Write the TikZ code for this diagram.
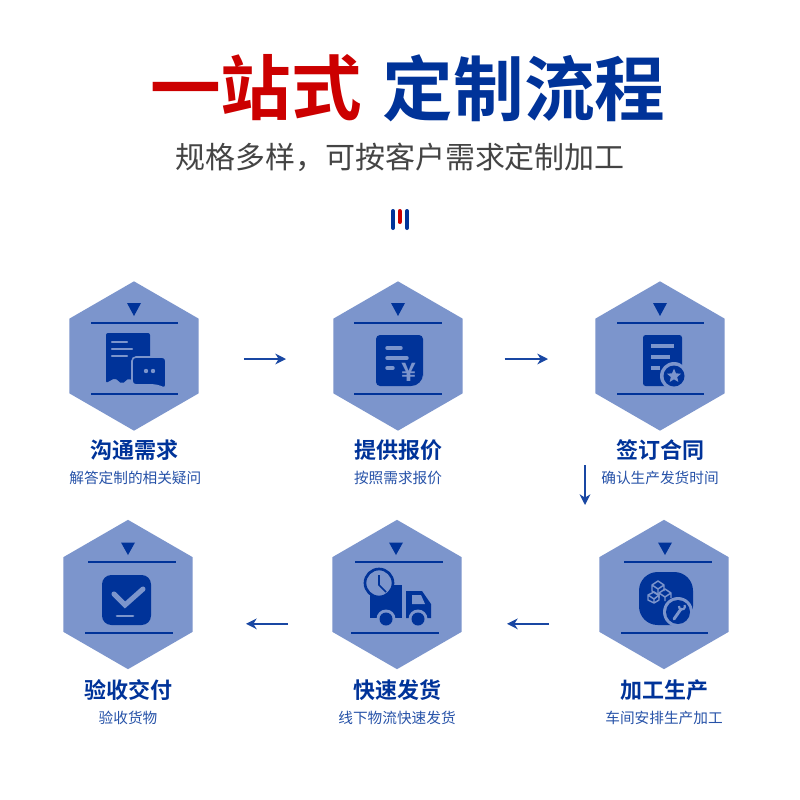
\documentclass[tikz,border=0pt]{standalone}
\usepackage{fontspec}
\usepackage{xcolor}
\usepackage{tikz}
\usetikzlibrary{arrows.meta,positioning,calc,shapes.geometric}
\newfontfamily\cjk[BoldFont={Noto Sans CJK SC Bold}]{Noto Sans CJK SC}
\definecolor{brandblue}{HTML}{003399}
\definecolor{brandred}{HTML}{CC0000}
\definecolor{hexblue}{HTML}{7C95CC}
\definecolor{subgray}{HTML}{444444}

\begin{document}
\begin{tikzpicture}[
        x=0.75pt, y=-0.75pt,
        >={Stealth[length=8pt,width=8pt,inset=2.5pt]},
        font=\cjk,
        % node styles
        hexcell/.style={regular polygon, regular polygon sides=6, shape border rotate=30, fill=hexblue, minimum size=112pt, inner sep=0pt, outer sep=0pt},
        maintitle/.style={font=\cjk\bfseries\fontsize{53}{53}\selectfont, inner sep=0pt},
        subtitle/.style={font=\cjk\fontsize{22.5}{22.5}\selectfont, text=subgray, inner sep=0pt},
        steptitle/.style={font=\cjk\bfseries\fontsize{16.5}{16.5}\selectfont, text=brandblue, inner sep=0pt},
        stepnote/.style={font=\cjk\fontsize{11}{11}\selectfont, text=brandblue!85!white, inner sep=0pt},
        % line styles
        flowline/.style={->, draw=brandblue!90!white, line width=1.1pt},
        rulebar/.style={draw=brandblue, line width=1pt},
        markbar/.style={line width=3pt, line cap=round},
        iconfill/.style={fill=brandblue, draw=none},
        iconline/.style={draw=hexblue, line width=1.8pt, line cap=round},
        notch/.style={fill=brandblue, draw=none}
    ]
    \useasboundingbox (0,0) rectangle (800,800);
    \fill[white] (0,0) rectangle (800,800);

    % heading
    \node[maintitle, text=brandred] (titlered) at (256,88) {一站式};
    \node[maintitle, text=brandblue] (titleblue) at (524,88) {定制流程};
    \node[subtitle] (subhead) at (400,157) {规格多样，可按客户需求定制加工};
    \draw[markbar, brandblue] (393,211) -- (393,228);
    \draw[markbar, brandred] (399.7,211) -- (399.7,222);
    \draw[markbar, brandblue] (407,211) -- (407,228);

    % hexagons
    \node[hexcell] (hexa) at (134,356) {};
    \node[hexcell] (hexb) at (398,356) {};
    \node[hexcell] (hexc) at (660,356) {};
    \node[hexcell] (hexd) at (128,594.5) {};
    \node[hexcell] (hexe) at (397,594.5) {};
    \node[hexcell] (hexf) at (664,594.5) {};

    % labels
    \node[steptitle, below=6.5pt of hexa] (titlea) {沟通需求};
    \node[stepnote, below=7.5pt of titlea, xshift=1pt] (notea) {解答定制的相关疑问};
    \node[steptitle, below=6.5pt of hexb] (titleb) {提供报价};
    \node[stepnote, below=7.5pt of titleb] (noteb) {按照需求报价};
    \node[steptitle, below=6.5pt of hexc] (titlec) {签订合同};
    \node[stepnote, below=7.5pt of titlec] (notec) {确认生产发货时间};
    \node[steptitle, below=7.5pt of hexd] (titled) {验收交付};
    \node[stepnote, below=7.5pt of titled] (noted) {验收货物};
    \node[steptitle, below=7.5pt of hexe] (titlee) {快速发货};
    \node[stepnote, below=7.5pt of titlee] (notee) {线下物流快速发货};
    \node[steptitle, below=7.5pt of hexf] (titlef) {加工生产};
    \node[stepnote, below=7.5pt of titlef] (notef) {车间安排生产加工};

    % triangles and rules
    \fill[notch] (127,303) -- (141,303) -- (134,316) -- cycle;
    \draw[rulebar] (91,323) -- (178,323) (91,394) -- (178,394);
    \fill[notch] (391,303) -- (405,303) -- (398,316) -- cycle;
    \draw[rulebar] (354,323) -- (442,323) (354,394) -- (442,394);
    \fill[notch] (653,303) -- (667,303) -- (660,316) -- cycle;
    \draw[rulebar] (617,323) -- (704,323) (617,394) -- (704,394);
    \fill[notch] (121,542.5) -- (135,542.5) -- (128,555) -- cycle;
    \draw[rulebar] (88,562) -- (176,562) (85,633) -- (173,633);
    \fill[notch] (389,542.5) -- (403,542.5) -- (396,555) -- cycle;
    \draw[rulebar] (355,562) -- (443,562) (351,633) -- (439,633);
    \fill[notch] (658,542.5) -- (672,542.5) -- (665,555) -- cycle;
    \draw[rulebar] (624,562) -- (712,562) (621,633) -- (708,633);

    % icon: receipt and chat
    \fill[iconfill, rounded corners=1.5pt] (106,333) -- (150,333) -- (150,383) -- (143,378) -- (136,384) -- (129,378) -- (122,384) -- (115,378) -- (106,383) -- cycle;
    \draw[iconline] (112,342) -- (127,342) (112,349) -- (132,349) (112,356) -- (127,356);
    \draw[fill=brandblue, draw=hexblue, line width=1.2pt, rounded corners=3pt] (132,357) -- (166,357) -- (166,389) -- (157,385) -- (132,385) -- cycle;
    \fill[hexblue] (146,371) circle (2.2) (153,371) circle (2.2);

    % icon: quote sheet
    \fill[iconfill, rounded corners=3pt] (376,335) -- (423,335) -- (423,372) [rounded corners=9pt] -- (423,386) [rounded corners=3pt] -- (376,386) -- cycle;
    \draw[iconline, line width=2.6pt] (387,348) -- (401,348) (387,358) -- (407,358) (387,368) -- (393,368);
    \node[font=\cjk\bfseries\fontsize{19}{19}\selectfont, text=hexblue, inner sep=0pt] (yuansign) at (409,372) {¥};

    % icon: contract
    \fill[iconfill, rounded corners=2pt] (643,335) rectangle (682,386);
    \draw[iconline, line cap=butt, line width=3pt] (651,346) -- (674,346) (651,357) -- (670,357) (651,368) -- (660,368);
    \fill[hexblue] (674,376) circle (14);
    \fill[brandblue] (674,376) circle (10.5);
    \node[star, star points=5, star point ratio=2.2, fill=hexblue, minimum size=11pt, inner sep=0pt] (badgestar) at (674,376) {};

    % icon: check box
    \fill[iconfill, rounded corners=7pt] (102,575) rectangle (151,625);
    \draw[iconline, line width=3.8pt] (114,594) -- (125,605) -- (143,589);
    \draw[iconline, line width=2pt] (117,616) -- (133,616);

    % icon: truck
    \fill[iconfill] (370,585) rectangle (402,618);
    \fill[iconfill] (406,591) -- (422,591) -- (431,604) -- (431,618) -- (406,618) -- cycle;
    \fill[hexblue] (412,595) -- (421,595) -- (425,604) -- (412,604) -- cycle;
    \filldraw[fill=hexblue, draw=brandblue, line width=2pt] (379,583) circle (14);
    \draw[draw=brandblue, line width=1.3pt] (379,575) -- (379,585) -- (386,592);
    \fill[hexblue] (386,619) circle (9.5) (418,619) circle (9.5);
    \fill[brandblue] (386,619) circle (6.5) (418,619) circle (6.5);

    % icon: machining
    \fill[iconfill, rounded corners=14pt] (639,572) rectangle (693,625);
    \begin{scope}[draw=hexblue, line width=1.1pt, line join=round]
        \draw (652,585) -- (658,581) -- (664,585) -- (658,589) -- cycle (652,585) -- (652,591) -- (658,595) -- (658,589) (664,585) -- (664,591);
        \draw (659,593) -- (665,589) -- (671,593) -- (665,597) -- cycle (659,593) -- (659,598) (665,597) -- (665,601) (671,593) -- (671,598);
        \draw (648,595) -- (654,592) -- (659,595) -- (654,599) -- cycle (648,595) -- (648,600) -- (654,603) -- (659,600) -- (659,595) (654,599) -- (654,603);
    \end{scope}
    \fill[hexblue] (678,612) circle (15);
    \fill[brandblue] (678,612) circle (12);
    \draw[iconline, line width=2.2pt] (674,619) -- (681,609);
    \draw[draw=hexblue, line width=1.6pt] (679,606) arc (190:-30:3);

    % connectors
    \draw[flowline, shorten <=34pt, shorten >=35.5pt] ([yshift=-2.25pt]hexa.east) -- ([yshift=-2.25pt]hexb.west);
    \draw[flowline, shorten <=31.5pt, shorten >=35.5pt] ([yshift=-2.25pt]hexb.east) -- ([yshift=-2.25pt]hexc.west);
    \coordinate (turnstart) at (585,465);
    \coordinate (turnend) at (585,505);
    \draw[flowline] (turnstart) -- (turnend);
    \draw[flowline, shorten <=37.75pt, shorten >=34pt] ([yshift=-22pt]hexf.west) -- ([yshift=-22pt]hexe.east);
    \draw[flowline, shorten <=33.25pt, shorten >=40pt] ([yshift=-22pt]hexe.west) -- ([yshift=-22pt]hexd.east);

\end{tikzpicture}
\end{document}
